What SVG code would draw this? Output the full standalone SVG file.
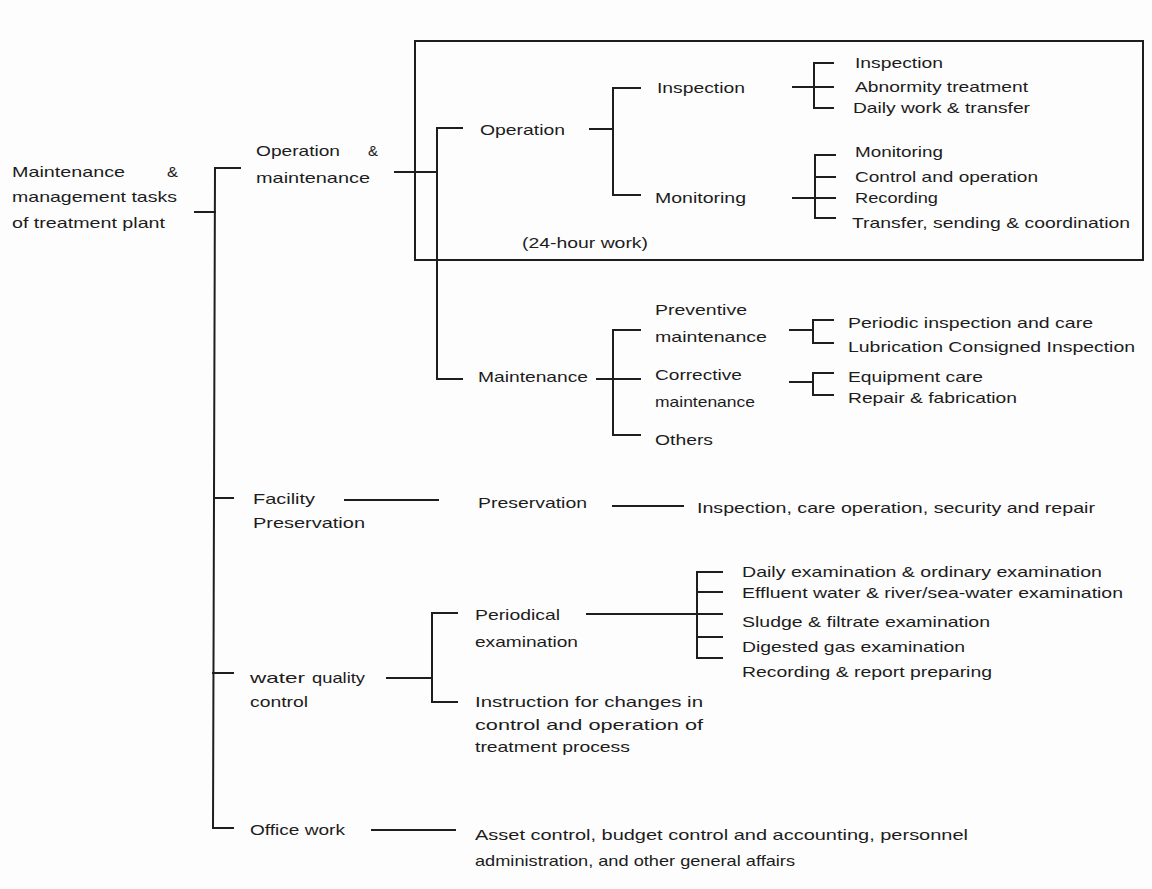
<svg xmlns="http://www.w3.org/2000/svg" width="1152" height="889" viewBox="0 0 1152 889">
  <style>
    text { font-family: "Liberation Sans", Arial, sans-serif; font-size: 15px; fill: #1c1c1c; }
    .ln { stroke: #1e1e1e; stroke-width: 2; fill: none; stroke-linecap: square; }
    .box { stroke: #1e1e1e; stroke-width: 2; fill: none; }
  </style>
  <rect width="1152" height="889" fill="#fdfdfd"/>

  <!-- 24-hour work frame -->
  <rect id="frame-24h" class="box" x="415" y="41" width="728" height="219"/>

  <!-- connectors -->
  <g id="connectors" class="ln">
    <!-- root -->
    <path d="M195,212 H215 M215,168 L213,828 M215,168 H240 M214,498 H233 M213,673 H233 M213,828 H233"/>
    <!-- operation & maintenance -->
    <path d="M395,172 H437 M437,128 V379 M437,128 H462 M437,379 H462"/>
    <!-- operation -->
    <path d="M590,129 H613 M613,88 V195 M613,88 H640 M613,195 H640"/>
    <!-- inspection -->
    <path d="M793,87 H833 M814,63 V108 M814,63 H833 M814,108 H833"/>
    <!-- monitoring -->
    <path d="M793,198 H835 M815,155 V218 M815,155 H835 M815,177 H835 M815,218 H835"/>
    <!-- maintenance -->
    <path d="M597,379 H640 M613,330 V435 M613,330 H640 M613,435 H640"/>
    <!-- preventive / corrective -->
    <path d="M790,330 H813 M813,320 V343 M813,320 H833 M813,343 H833"/>
    <path d="M790,382 H813 M813,373 V395 M813,373 H833 M813,395 H833"/>
    <!-- facility preservation -->
    <path d="M345,500 H438 M613,506 H683"/>
    <!-- water quality control -->
    <path d="M387,678 H432 M432,613 V702 M432,613 H457 M432,702 H457"/>
    <!-- periodical examination -->
    <path d="M587,614 H722 M697,572 V658 M697,572 H722 M697,592 H722 M697,637 H722 M697,658 H722"/>
    <!-- office work -->
    <path d="M372,830 H455"/>
  </g>

  <g id="root">
    <text x="12" y="177" textLength="113" lengthAdjust="spacingAndGlyphs">Maintenance</text>
    <text x="167" y="177" textLength="11" lengthAdjust="spacingAndGlyphs">&amp;</text>
    <text x="12" y="202" textLength="165" lengthAdjust="spacingAndGlyphs">management tasks</text>
    <text x="12" y="228" textLength="153" lengthAdjust="spacingAndGlyphs">of treatment plant</text>
  </g>

  <g id="operation-maintenance">
    <text x="256" y="156" textLength="84" lengthAdjust="spacingAndGlyphs">Operation</text>
    <text x="368" y="156" textLength="10" lengthAdjust="spacingAndGlyphs">&amp;</text>
    <text x="256" y="183" textLength="114" lengthAdjust="spacingAndGlyphs">maintenance</text>
  </g>

  <g id="operation">
    <text x="480" y="135" textLength="85" lengthAdjust="spacingAndGlyphs">Operation</text>
  </g>
  <g id="inspection">
    <text x="657" y="93" textLength="88" lengthAdjust="spacingAndGlyphs">Inspection</text>
  </g>
  <g id="monitoring">
    <text x="655" y="203" textLength="91" lengthAdjust="spacingAndGlyphs">Monitoring</text>
  </g>
  <g id="note-24h">
    <text x="522" y="248" textLength="126" lengthAdjust="spacingAndGlyphs">(24-hour work)</text>
  </g>

  <g id="inspection-items">
    <text x="855" y="68" textLength="88" lengthAdjust="spacingAndGlyphs">Inspection</text>
    <text x="855" y="92" textLength="173" lengthAdjust="spacingAndGlyphs">Abnormity treatment</text>
    <text x="853" y="113" textLength="177" lengthAdjust="spacingAndGlyphs">Daily work &amp; transfer</text>
  </g>

  <g id="monitoring-items">
    <text x="855" y="157" textLength="88" lengthAdjust="spacingAndGlyphs">Monitoring</text>
    <text x="855" y="182" textLength="183" lengthAdjust="spacingAndGlyphs">Control and operation</text>
    <text x="855" y="203" textLength="83" lengthAdjust="spacingAndGlyphs">Recording</text>
    <text x="852" y="228" textLength="278" lengthAdjust="spacingAndGlyphs">Transfer, sending &amp; coordination</text>
  </g>

  <g id="maintenance">
    <text x="478" y="382" textLength="110" lengthAdjust="spacingAndGlyphs">Maintenance</text>
  </g>
  <g id="preventive">
    <text x="655" y="315" textLength="92" lengthAdjust="spacingAndGlyphs">Preventive</text>
    <text x="655" y="342" textLength="112" lengthAdjust="spacingAndGlyphs">maintenance</text>
  </g>
  <g id="corrective">
    <text x="655" y="380" textLength="87" lengthAdjust="spacingAndGlyphs">Corrective</text>
    <text x="655" y="407" textLength="100" lengthAdjust="spacingAndGlyphs">maintenance</text>
  </g>
  <g id="others">
    <text x="655" y="445" textLength="58" lengthAdjust="spacingAndGlyphs">Others</text>
  </g>
  <g id="preventive-items">
    <text x="848" y="328" textLength="245" lengthAdjust="spacingAndGlyphs">Periodic inspection and care</text>
    <text x="848" y="352" textLength="287" lengthAdjust="spacingAndGlyphs">Lubrication Consigned Inspection</text>
  </g>
  <g id="corrective-items">
    <text x="848" y="382" textLength="135" lengthAdjust="spacingAndGlyphs">Equipment care</text>
    <text x="848" y="403" textLength="169" lengthAdjust="spacingAndGlyphs">Repair &amp; fabrication</text>
  </g>

  <g id="facility-preservation">
    <text x="253" y="504" textLength="62" lengthAdjust="spacingAndGlyphs">Facility</text>
    <text x="253" y="528" textLength="112" lengthAdjust="spacingAndGlyphs">Preservation</text>
  </g>
  <g id="preservation">
    <text x="478" y="508" textLength="109" lengthAdjust="spacingAndGlyphs">Preservation</text>
  </g>
  <g id="preservation-items">
    <text x="697" y="513" textLength="398" lengthAdjust="spacingAndGlyphs">Inspection, care operation, security and repair</text>
  </g>

  <g id="water-quality-control">
    <text x="250" y="683" textLength="55" lengthAdjust="spacingAndGlyphs">water</text>
    <text x="312" y="683" textLength="53" lengthAdjust="spacingAndGlyphs">quality</text>
    <text x="250" y="707" textLength="58" lengthAdjust="spacingAndGlyphs">control</text>
  </g>
  <g id="periodical-examination">
    <text x="475" y="620" textLength="85" lengthAdjust="spacingAndGlyphs">Periodical</text>
    <text x="475" y="647" textLength="103" lengthAdjust="spacingAndGlyphs">examination</text>
  </g>
  <g id="examination-items">
    <text x="742" y="577" textLength="360" lengthAdjust="spacingAndGlyphs">Daily examination &amp; ordinary examination</text>
    <text x="742" y="598" textLength="381" lengthAdjust="spacingAndGlyphs">Effluent water &amp; river/sea-water examination</text>
    <text x="742" y="627" textLength="248" lengthAdjust="spacingAndGlyphs">Sludge &amp; filtrate examination</text>
    <text x="742" y="652" textLength="223" lengthAdjust="spacingAndGlyphs">Digested gas examination</text>
    <text x="742" y="677" textLength="250" lengthAdjust="spacingAndGlyphs">Recording &amp; report preparing</text>
  </g>
  <g id="process-instruction">
    <text x="475" y="707" textLength="228" lengthAdjust="spacingAndGlyphs">Instruction for changes in</text>
    <text x="475" y="730" textLength="228" lengthAdjust="spacingAndGlyphs">control and operation of</text>
    <text x="475" y="752" textLength="155" lengthAdjust="spacingAndGlyphs">treatment process</text>
  </g>

  <g id="office-work">
    <text x="250" y="835" textLength="95" lengthAdjust="spacingAndGlyphs">Office work</text>
  </g>
  <g id="office-items">
    <text x="475" y="840" textLength="493" lengthAdjust="spacingAndGlyphs">Asset control, budget control and accounting, personnel</text>
    <text x="475" y="866" textLength="320" lengthAdjust="spacingAndGlyphs">administration, and other general affairs</text>
  </g>
</svg>
